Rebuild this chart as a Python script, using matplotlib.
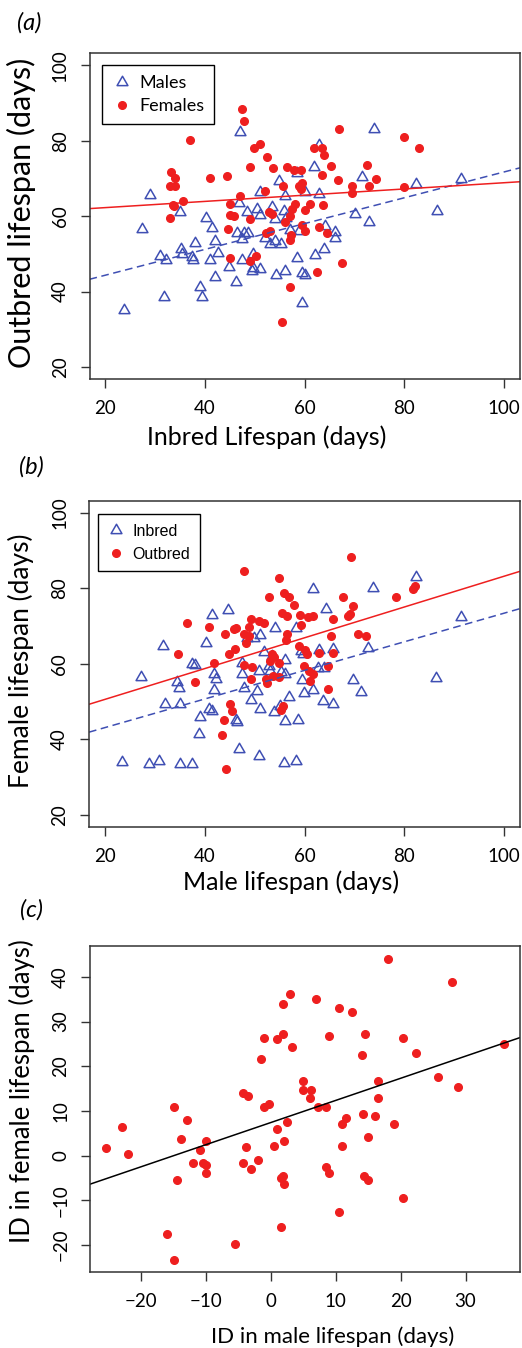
import matplotlib
matplotlib.use("Agg")
import matplotlib.pyplot as plt
from matplotlib.path import Path

# (a) inbred vs outbred lifespan, per line
males_inbred = [47.0, 73.8, 62.9, 61.9, 58.4, 54.9, 71.4, 82.4, 91.4, 28.9, 51.0, 56.0, 60.0, 62.9,
                46.7, 34.9, 40.2, 48.4, 50.4, 51.0, 53.5, 55.9, 54.0, 56.3, 70.0, 86.5, 72.9, 27.4,
                41.4, 46.4, 47.9, 48.7, 47.4, 52.0, 57.0, 58.8, 64.0, 66.0, 66.0, 38.0, 42.0, 53.0,
                54.0, 55.3, 35.1, 35.3, 30.9, 32.1, 37.4, 37.5, 42.5, 41.0, 49.7, 47.4, 58.5, 62.0,
                63.9, 44.7, 49.7, 49.5, 51.1, 56.0, 54.2, 59.5, 60.0, 42.0, 46.2, 39.0, 31.7, 39.3,
                59.5, 23.7]
males_outbred = [82.4, 83.0, 78.8, 72.9, 71.5, 69.4, 70.4, 68.5, 69.8, 65.5, 66.4, 65.4, 66.4, 65.9,
                 63.6, 61.1, 59.6, 61.1, 61.8, 60.4, 62.4, 61.3, 59.2, 59.6, 60.5, 61.3, 58.4, 56.7,
                 56.9, 55.4, 55.4, 55.4, 53.8, 54.3, 56.3, 56.1, 57.4, 55.9, 54.3, 52.9, 53.4, 52.5,
                 53.4, 52.6, 51.3, 49.9, 49.4, 48.3, 49.2, 48.3, 50.1, 48.3, 49.9, 48.3, 48.8, 49.8,
                 51.3, 46.6, 46.2, 45.5, 45.9, 45.4, 44.5, 44.8, 44.3, 43.8, 42.4, 41.3, 38.6, 38.6,
                 36.9, 35.1]
females_inbred = [47.4, 47.9, 66.9, 37.0, 79.9, 82.9, 49.9, 51.0, 61.9, 63.5, 63.9, 52.5, 49.0, 53.7,
                  56.5, 57.9, 59.3, 65.2, 72.4, 33.2, 34.0, 41.0, 44.4, 63.5, 66.6, 74.2, 32.9, 34.0,
                  55.7, 58.9, 59.5, 59.3, 69.4, 72.9, 79.9, 69.4, 52.0, 47.0, 35.5, 33.5, 33.7, 45.0,
                  58.0, 57.5, 61.0, 63.7, 32.9, 45.0, 45.7, 49.0, 52.9, 53.4, 60.0, 57.0, 56.0, 59.4,
                  62.9, 44.5, 53.0, 52.3, 60.0, 64.4, 57.3, 57.0, 50.2, 45.0, 49.0, 67.5, 62.4, 57.0,
                  55.5]
females_outbred = [88.5, 85.1, 83.1, 80.2, 81.0, 78.1, 78.0, 79.0, 78.1, 78.1, 76.1, 75.6, 73.1, 72.7,
                   73.1, 72.2, 72.2, 73.3, 73.6, 71.6, 70.1, 70.1, 70.6, 71.0, 69.6, 69.9, 68.0, 68.0,
                   67.9, 68.0, 68.9, 67.3, 68.0, 68.0, 67.6, 66.1, 66.6, 65.2, 64.1, 63.0, 62.7, 63.1,
                   63.2, 62.0, 63.1, 62.9, 59.6, 60.4, 59.9, 59.1, 61.0, 60.6, 61.5, 60.0, 58.5, 57.6,
                   57.1, 56.6, 56.1, 55.4, 56.0, 55.4, 55.1, 53.6, 49.4, 49.0, 48.1, 47.6, 45.1, 41.1,
                   32.0]
fit_a_males = (37.5, 0.342)     # intercept, slope
fit_a_females = (60.6, 0.0824)

# (b) male vs female lifespan, per line
inbred_male = [82.3, 61.8, 73.8, 91.3, 64.3, 44.6, 41.4, 54.1, 58.3, 48.5, 49.8, 51.0, 31.6, 40.2,
               72.8, 51.8, 59.2, 62.9, 65.8, 59.7, 37.5, 38.0, 47.4, 53.5, 56.0, 52.9, 47.4, 50.9,
               53.1, 55.3, 56.0, 62.8, 64.0, 27.3, 41.8, 34.4, 42.3, 34.8, 47.9, 59.4, 69.8, 86.3,
               41.8, 50.4, 59.8, 61.8, 71.3, 56.9, 49.3, 32.0, 35.1, 63.8, 65.8, 40.8, 41.4, 51.1,
               53.8, 55.0, 39.1, 46.3, 46.5, 56.1, 58.6, 38.8, 46.9, 50.9, 23.5, 28.8, 30.8, 35.1,
               37.4, 55.8, 58.3]
inbred_female = [82.9, 79.9, 80.0, 72.5, 74.6, 74.3, 72.9, 69.6, 69.6, 66.9, 66.9, 67.6, 64.6, 65.4,
                 64.1, 63.1, 63.4, 63.6, 63.9, 62.5, 59.9, 59.7, 60.1, 62.1, 61.1, 59.5, 57.2, 58.1,
                 58.1, 57.7, 57.2, 59.0, 59.0, 56.6, 57.3, 55.2, 55.9, 53.7, 53.6, 55.7, 55.7, 56.1,
                 53.0, 52.8, 52.3, 53.1, 52.6, 51.3, 50.3, 49.2, 49.2, 50.2, 49.2, 48.0, 47.6, 48.0,
                 47.2, 48.9, 45.8, 45.1, 44.6, 44.8, 45.1, 41.3, 37.3, 35.6, 33.9, 33.3, 34.1, 33.5,
                 33.3, 33.7, 34.1]
outbred_male = [69.3, 47.9, 54.8, 82.1, 81.7, 78.3, 52.8, 55.9, 56.9, 67.8, 57.8, 69.8, 55.4, 56.4,
                59.1, 60.6, 61.8, 69.2, 68.8, 65.8, 49.3, 50.9, 51.9, 36.4, 40.8, 45.8, 46.2, 48.9,
                59.3, 44.1, 47.9, 48.9, 56.4, 56.3, 65.3, 70.8, 72.3, 48.3, 58.8, 60.0, 34.6, 44.9,
                46.0, 53.5, 53.9, 60.5, 63.0, 65.8, 41.8, 53.1, 54.9, 47.9, 49.5, 59.8, 64.8, 61.0,
                61.8, 53.7, 54.9, 49.3, 52.2, 52.5, 38.1, 61.2, 64.8, 45.1, 55.6, 55.3, 45.4, 43.9,
                43.4, 44.3]
outbred_female = [88.2, 84.7, 82.7, 80.7, 79.7, 77.8, 77.8, 78.8, 77.8, 77.8, 75.7, 75.3, 73.5, 72.7,
                  73.0, 72.5, 72.7, 73.2, 72.7, 71.9, 71.9, 71.3, 70.8, 70.8, 69.8, 69.3, 69.6, 69.8,
                  70.3, 67.8, 67.8, 67.4, 67.8, 66.3, 67.3, 67.8, 67.3, 65.6, 64.8, 63.6, 62.5, 62.7,
                  63.8, 62.5, 61.8, 62.5, 62.8, 62.8, 60.2, 60.8, 60.3, 59.7, 59.2, 59.5, 59.5, 58.0,
                  57.4, 56.8, 56.6, 55.9, 55.9, 55.0, 55.2, 55.5, 53.4, 49.3, 48.9, 47.8, 47.4, 45.0,
                  41.0, 32.0]
fit_b_inbred = (35.5, 0.379)
fit_b_outbred = (42.4, 0.408)

# (c) inbreeding depression, male vs female
id_male = [18.0, 27.9, 3.0, 1.9, 6.9, 10.5, 12.5, -1.0, 1.0, 1.9, 3.2, 8.9, 14.5, 20.4, 22.4, 14.0,
           35.9, -1.5, 25.7, 28.9, 5.0, 5.0, 6.2, 16.5, 16.5, 6.0, -4.3, -3.5, -1.1, -0.3, 7.2, 8.5,
           -15.0, -13.0, -23.0, 2.5, 1.0, 11.5, 11.0, 14.2, 16.0, 19.0, -13.8, -10.0, 2.0, 14.9,
           -25.5, -11.0, -3.8, 0.5, 11.0, -22.0, -12.0, -10.5, -10.0, -4.3, -2.0, -3.0, 8.5, 8.9,
           -10.0, -14.5, 1.5, 1.9, 2.0, 14.4, 14.9, 20.4, 10.5, 1.5, -16.0, -5.5, -15.0]
id_female = [44.1, 38.8, 36.2, 34.0, 35.0, 33.0, 32.1, 26.3, 26.2, 27.3, 24.4, 26.8, 27.3, 26.3,
             22.9, 22.4, 24.9, 21.5, 17.6, 15.3, 16.7, 14.7, 14.7, 16.7, 12.8, 12.8, 14.1, 13.3,
             10.9, 11.6, 10.9, 10.9, 10.9, 8.0, 6.5, 7.5, 6.0, 8.5, 7.0, 9.2, 8.9, 7.1, 3.6, 3.2,
             3.2, 4.2, 1.7, 1.2, 2.0, 2.2, 2.2, 0.3, -1.7, -1.7, -2.2, -1.7, -1.1, -2.9, -2.6, -4.0,
             -4.0, -5.5, -5.0, -4.6, -6.4, -4.6, -5.5, -9.6, -12.7, -16.1, -17.5, -19.9, -23.4]
fit_c = (7.4, 0.495)

red = '#ee1f1f'
blue = '#3f4fb3'
# open triangle like R's pch=2 (wider than tall)
tri = Path([(-1, -0.577), (1, -0.577), (0, 1.155), (-1, -0.577)], closed=True)

plt.rcParams['font.family'] = ['Lato', 'DejaVu Sans']
plt.rcParams['axes.edgecolor'] = '#333333'
plt.rcParams['axes.linewidth'] = 1.1

fig = plt.figure(figsize=(5.22, 13.48), dpi=100)
ax_a = fig.add_axes([0.1715, 0.7188, 0.8247, 0.2418])
ax_b = fig.add_axes([0.1705, 0.3867, 0.8257, 0.2418])
ax_c = fig.add_axes([0.1724, 0.0566, 0.8238, 0.2416])


def style(ax):
    ax.tick_params(direction='out', length=6.5, width=1, color='#333333',
                   labelsize=13.5, pad=8.5)
    ax.tick_params(axis='y', labelrotation=90)
    for lbl in ax.get_yticklabels():
        lbl.set_va('center')


def put_labels(ax, xlab, xsize, xpos, ylab, ysize, ypos):
    # labels sit where they are in the original figure (x label not centred)
    ax.set_xlabel(xlab, fontsize=xsize, va='center')
    ax.set_ylabel(ylab, fontsize=ysize, va='center')
    ax.xaxis.set_label_coords(*xpos)
    ax.yaxis.set_label_coords(*ypos)


# panel a
ax_a.plot(males_inbred, males_outbred, linestyle='none', marker=tri, markersize=9,
          markerfacecolor='none', markeredgecolor=blue, markeredgewidth=1.1, label='Males')
ax_a.plot(females_inbred, females_outbred, linestyle='none', marker='o', markersize=5.5,
          color=red, label='Females')
ax_a.axline((0, fit_a_males[0]), slope=fit_a_males[1], color=blue, lw=1.1, linestyle=(0, (5, 3)))
ax_a.axline((0, fit_a_females[0]), slope=fit_a_females[1], color=red, lw=1.1)
ax_a.set_xlim(16.8, 103.2)
ax_a.set_ylim(16.8, 103.2)
ax_a.set_xticks([20, 40, 60, 80, 100])
ax_a.set_yticks([20, 40, 60, 80, 100])
style(ax_a)
put_labels(ax_a, 'Inbred Lifespan (days)', 18, (0.412, -0.178),
           'Outbred lifespan (days)', 22, (-0.159, 0.509))
leg = ax_a.legend(loc='upper left', bbox_to_anchor=(0.029, 0.963), borderaxespad=0,
                  fancybox=False, edgecolor='black', framealpha=1, fontsize=13,
                  handletextpad=0.4, borderpad=0.55, handlelength=1.1, labelspacing=0.4)
leg.get_frame().set_linewidth(1)
fig.text(0.033, 1 - 23 / 1348, '(a)', fontsize=17, style='italic', va='center')

# panel b
ax_b.plot(inbred_male, inbred_female, linestyle='none', marker=tri, markersize=9,
          markerfacecolor='none', markeredgecolor=blue, markeredgewidth=1.1, label='Inbred')
ax_b.plot(outbred_male, outbred_female, linestyle='none', marker='o', markersize=5.5,
          color=red, label='Outbred')
ax_b.axline((0, fit_b_inbred[0]), slope=fit_b_inbred[1], color=blue, lw=1.1, linestyle=(0, (5, 3)))
ax_b.axline((0, fit_b_outbred[0]), slope=fit_b_outbred[1], color=red, lw=1.1)
ax_b.set_xlim(16.8, 103.2)
ax_b.set_ylim(16.8, 103.2)
ax_b.set_xticks([20, 40, 60, 80, 100])
ax_b.set_yticks([20, 40, 60, 80, 100])
style(ax_b)
put_labels(ax_b, 'Male lifespan (days)', 18, (0.469, -0.170),
           'Female lifespan (days)', 19, (-0.158, 0.508))
leg = ax_b.legend(loc='upper left', bbox_to_anchor=(0.021, 0.959), borderaxespad=0,
                  fancybox=False, edgecolor='black', framealpha=1,
                  prop={'family': 'Liberation Sans', 'size': 11.5},
                  handletextpad=0.45, borderpad=0.6, handlelength=1.1, labelspacing=0.5)
leg.get_frame().set_linewidth(1)
fig.text(0.036, 1 - 467 / 1348, '(b)', fontsize=17, style='italic', va='center')

# panel c
ax_c.plot(id_male, id_female, linestyle='none', marker='o', markersize=5.5, color=red)
ax_c.axline((0, fit_c[0]), slope=fit_c[1], color='black', lw=1.1)
ax_c.set_xlim(-27.9, 38.4)
ax_c.set_ylim(-26.0, 46.9)
ax_c.set_xticks([-20, -10, 0, 10, 20, 30])
ax_c.set_yticks([-20, -10, 0, 10, 20, 30, 40])
style(ax_c)
put_labels(ax_c, 'ID in male lifespan (days)', 16, (0.565, -0.200),
           'ID in female lifespan (days)', 18.5, (-0.158, 0.555))
fig.text(0.038, 1 - 910 / 1348, '(c)', fontsize=17, style='italic', va='center')

fig.savefig('out.png', dpi=100)
